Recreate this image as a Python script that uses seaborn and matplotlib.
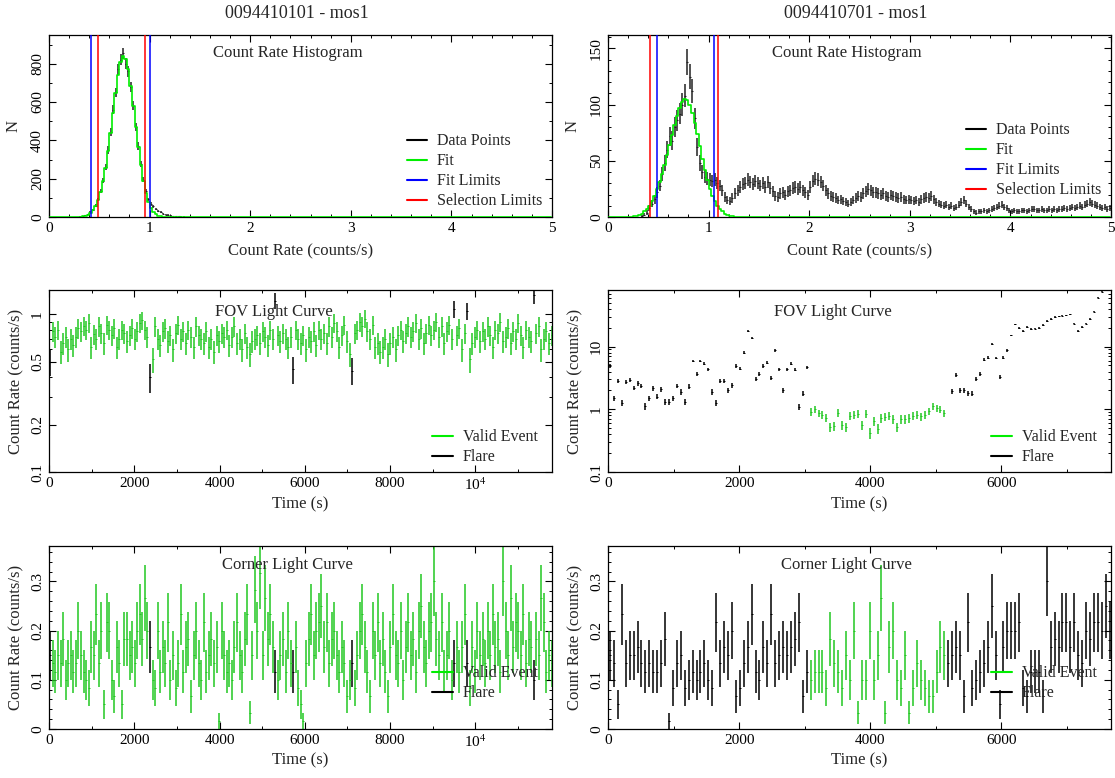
import numpy as np
import matplotlib
matplotlib.use("Agg")
import matplotlib.pyplot as plt
import seaborn as sns
from matplotlib.lines import Line2D
from matplotlib.ticker import MultipleLocator, FixedLocator, NullFormatter

# ---------------- data ----------------
obs_titles = ["0094410101 - mos1", "0094410701 - mos1"]

hist_bin = 0.025  # counts/s per histogram bin
# left observation: histogram counts (bins from 0)
hist_l_data = [0, 0, 0, 0, 0, 0, 0, 0, 0, 0,
               1, 1, 2, 4, 8, 14,
               24, 38, 60, 92, 135, 190,
               262, 350, 445, 560, 650, 770,
               820, 855, 800, 760, 680, 580,
               470, 370, 275, 195, 135, 92,
               68, 55, 42, 32, 24, 18,
               13, 10, 7, 5, 4, 3,
               2, 2, 1, 1]
hist_l_fit = [0, 0, 0, 0, 0, 0, 0, 0, 0, 0,
              1, 1, 2, 4, 7, 13,
              22, 36, 57, 88, 130, 186,
              256, 342, 440, 545, 648, 740,
              810, 840, 825, 770, 685, 580,
              470, 365, 270, 190, 125, 78,
              46, 26, 14, 7, 3, 2,
              1, 0] + [0] * 152
# right observation
hist_r_data = [0, 0, 0, 0, 0, 0, 0, 0, 0, 0, 0, 0,
               0, 1, 2, 4, 8, 12,
               16, 22, 28, 38, 48, 60,
               72, 68, 80, 86, 92, 100,
               108, 138, 125, 112, 88, 62,
               48, 40, 36, 34, 33, 32,
               33, 30, 28, 24, 18, 15,
               14, 17, 21, 24, 27, 29,
               30, 33, 31, 29, 32, 30,
               28, 30, 27, 31, 26, 23,
               19, 18, 21, 22, 20, 23,
               24, 26, 27, 25, 27, 24,
               22, 20, 27, 32, 34, 33,
               31, 28, 24, 21, 19, 18,
               17, 15, 16, 14, 13, 12,
               13, 15, 17, 19, 18, 21,
               23, 25, 24, 22, 22, 21,
               20, 21, 19, 18, 20, 19,
               18, 17, 18, 16, 15, 16,
               15, 14, 15, 13, 16, 17,
               18, 17, 19, 16, 13, 12,
               11, 10, 11, 9, 10, 8,
               9, 11, 13, 15, 12, 9,
               7, 5, 4, 5, 5, 6,
               5, 6, 7, 8, 9, 10,
               11, 9, 8, 6, 5, 6,
               5, 5, 6, 6, 5, 6,
               7, 7, 6, 6, 7, 6,
               6, 7, 6, 7, 6, 7,
               7, 8, 7, 8, 9, 8,
               9, 10, 9, 11, 12, 13,
               12, 11, 10, 9, 8, 9,
               7, 8]
hist_r_fit = [0, 0, 0, 0, 0, 0, 0, 0, 0, 0, 1, 1,
              2, 3, 5, 7, 10, 14,
              19, 25, 31, 38, 46, 55,
              64, 73, 82, 90, 97, 102,
              105, 104, 100, 93, 84, 74,
              63, 52, 42, 33, 25, 19,
              14, 10, 7, 5, 3, 2,
              1, 1] + [0] * 150

fit_limits = [[0.417, 1.003], [0.486, 1.053]]
sel_limits = [[0.488, 0.954], [0.418, 1.089]]

lc_bin = 60.0  # s
time_max = [11800, 7670]

# left observation light curves (count rate per 60 s bin)
fov_l = [0.50, 0.78, 0.72, 0.80, 0.58, 0.66, 0.72, 0.60, 0.70, 0.64,
         0.72, 0.82, 0.78, 0.85, 0.80, 0.88, 0.62, 0.75, 0.70, 0.84,
         0.76, 0.66, 0.86, 0.80, 0.74, 0.82, 0.62, 0.70, 0.80, 0.76,
         0.68, 0.74, 0.82, 0.70, 0.78, 0.88, 0.92, 0.80, 0.72, 0.40,
         0.52, 0.84, 0.70, 0.64, 0.78, 0.82, 0.68, 0.74, 0.60, 0.76,
         0.86, 0.70, 0.78, 0.66, 0.80, 0.72, 0.62, 0.84, 0.74, 0.70,
         0.66, 0.78, 0.62, 0.70, 0.58, 0.74, 0.68, 0.76, 0.72, 0.80,
         0.64, 0.72, 0.84, 0.66, 0.70, 0.60, 0.76, 0.62, 0.56, 0.68,
         0.70, 0.74, 0.66, 0.78, 0.72, 0.64, 0.80, 0.70, 1.22, 0.74,
         0.68, 0.76, 0.70, 0.62, 0.72, 0.45, 0.80, 0.70, 0.66, 0.74,
         0.60, 0.72, 0.68, 0.78, 0.64, 0.80, 0.70, 0.76, 0.66, 0.84,
         0.72, 0.88, 0.78, 0.62, 0.74, 0.86, 0.68, 0.56, 0.44, 0.76,
         0.80, 0.90, 0.84, 0.94, 0.78, 0.70, 0.86, 0.62, 0.66, 0.58,
         0.62, 0.70, 0.56, 0.66, 0.72, 0.60, 0.74, 0.80, 0.68, 0.76,
         0.84, 0.72, 0.78, 0.88, 0.70, 0.82, 0.66, 0.76, 0.86, 0.74,
         0.80, 0.90, 0.72, 0.84, 0.66, 0.78, 0.86, 0.70, 1.08, 0.74,
         0.82, 0.60, 0.76, 1.05, 0.52, 0.66, 0.72, 0.80, 0.68, 0.78,
         0.70, 0.84, 0.74, 0.62, 0.80, 0.76, 0.90, 0.68, 0.72, 0.82,
         0.66, 0.78, 0.70, 0.88, 0.74, 0.62, 0.80, 0.72, 0.68, 1.32,
         0.76, 0.84, 0.60, 0.70, 0.78, 0.66, 0.74]
corner_l_counts = [9, 8, 7, 9, 8, 11, 6, 8, 9, 7,
                   8, 12, 9, 7, 6, 5, 10, 9, 14, 8,
                   12, 3, 13, 12, 6, 4, 10, 8, 3, 11,
                   11, 9, 10, 8, 12, 14, 11, 16, 12, 10,
                   6, 5, 12, 7, 10, 8, 13, 6, 9, 5,
                   8, 14, 7, 10, 11, 4, 9, 12, 8, 6,
                   13, 7, 9, 11, 8, 10, 1, 12, 9, 7,
                   8, 6, 10, 13, 9, 7, 11, 14, 2, 9,
                   17, 12, 19, 9, 16, 11, 14, 10, 7, 6,
                   9, 11, 7, 12, 8, 7, 10, 5, 3, 1,
                   8, 11, 14, 9, 12, 13, 15, 10, 13, 8,
                   11, 12, 9, 7, 10, 8, 4, 6, 8, 5,
                   9, 12, 14, 10, 7, 4, 12, 9, 13, 8,
                   11, 7, 4, 10, 14, 9, 8, 12, 6, 10,
                   13, 9, 11, 7, 12, 15, 10, 8, 12, 13,
                   18, 11, 9, 13, 7, 9, 12, 6, 8, 10,
                   7, 10, 14, 8, 5, 10, 7, 12, 9, 11,
                   8, 12, 9, 14, 10, 11, 7, 18, 12, 9,
                   16, 10, 13, 12, 9, 14, 8, 11, 10, 6,
                   11, 9, 16, 13, 7, 9, 8]
flare_l_idx = [0, 39, 88, 95, 118, 158, 163, 189]

# right observation light curves
fov_r = [4.9, 1.5, 2.8, 1.28, 2.7, 2.9, 2.2, 2.6, 2.35, 1.13,
         1.5, 2.15, 1.6, 2.1, 1.33, 1.33, 1.5, 2.35, 1.9, 1.33,
         2.3, 5.9, 3.7, 5.9, 5.35, 4.35, 1.9, 1.28, 2.8, 2.8,
         2.0, 2.4, 4.9, 4.45, 8.0, 17.7, 13.9, 3.1, 3.7, 4.9,
         5.5, 3.2, 8.7, 4.35, 2.0, 4.35, 5.35, 4.3, 1.1, 1.78,
         4.7,
         0.92, 1.0, 0.87, 0.81, 0.74, 0.52, 0.54, 0.88, 0.56, 0.52,
         0.78, 0.81, 0.85, 0.56, 0.85, 0.42, 0.65, 0.49, 0.72, 0.76,
         0.78, 0.69, 0.52, 0.69, 0.69, 0.72, 0.78, 0.81, 0.77, 0.81,
         0.94, 1.13, 1.04, 0.99, 0.87,
         np.nan,
         1.96, 3.5, 2.0, 2.0, 1.8, 1.78, 3.1, 3.7, 6.2, 6.7,
         11.2, 6.6, 3.3, 6.7, 8.7, 15.1, 22.6, 20.0, 17.8, 20.5,
         19.2, 19.4, 20.0, 22.0, 25.6, 27.6, 29.7, 30.5, 31.0, 31.6,
         33.0, 23.3, 17.8, 20.5, 23.3, 27.6, 36.0, 60.0, 75.0]
corner_r_counts = [9, 8, 3, 14, 8, 9, 9, 10, 8, 7,
                   8, 7, 7, 8, 11, 1, 5, 8, 9, 5,
                   6, 7, 6, 7, 8, 6, 5, 13, 8, 10,
                   9, 12, 4, 5, 8, 10, 14, 7, 6, 10,
                   8, 14, 8, 9, 10, 9, 10, 11, 13, 4,
                   7, 6, 7, 7, 7, 5, 11, 8, 7, 5,
                   9, 6, 12, 2, 6, 6, 12, 6, 9, 16,
                   2, 10, 12, 6, 5, 9, 2, 5, 8, 6,
                   5, 4, 4, 7, 10, 9, 8, 9, 10, 9,
                   4, 13, 5, 6, 7, 8, 10, 15, 9, 3,
                   10, 12, 12, 12, 13, 5, 4, 7, 7, 7,
                   4, 18, 10, 11, 10, 13, 13, 10, 13, 9,
                   8, 12, 11, 13, 13, 12, 15, 12]
valid_r_first, valid_r_last = 51, 85

# ---------------- style ----------------
sns.set_style("ticks")
plt.rcParams["font.family"] = ["Liberation Serif", "DejaVu Serif"]
plt.rcParams["mathtext.fontset"] = "stix"
plt.rcParams["axes.linewidth"] = 0.9

W, H = 1115, 778
fig = plt.figure(figsize=(W / 100, H / 100), dpi=100)
fig.patch.set_facecolor("white")

LIME = "#00ee00"
BAR_GREEN = "#22c822"


def ax_at(x0, x1, ytop, ybot):
    return fig.add_axes([x0 / W, 1 - ybot / H, (x1 - x0) / W, (ybot - ytop) / H])


def style_axis(ax, xlab, ylab, xlab_y, ylab_x):
    ax.tick_params(which="both", direction="in", top=True, right=True,
                   labelsize=11, colors="black")
    ax.tick_params(which="major", length=5, width=0.8)
    ax.tick_params(which="minor", length=2.5, width=0.7)
    ax.tick_params(axis="y", labelrotation=90)
    for lab in ax.get_yticklabels():
        lab.set_va("center")
    for s in ax.spines.values():
        s.set_visible(True)
        s.set_color("black")
    ax.set_xlabel(xlab, fontsize=12, va="center")
    ax.set_ylabel(ylab, fontsize=12, va="center")
    ax.xaxis.set_label_coords(0.5, xlab_y)
    ax.yaxis.set_label_coords(ylab_x, 0.5)


cols = [(49, 552), (608, 1111)]
rows = [(35, 217), (290, 472), (546, 729)]

hist_data = [hist_l_data, hist_r_data]
hist_fit = [hist_l_fit, hist_r_fit]
hist_ymax = [950, 162]
hist_major = [200, 50]
hist_minor = [100, 10]
hist_leg_y = [-0.01, 0.05]

for k in range(2):
    x0, x1 = cols[k]
    fig.text(((x0 + x1) / 2 - 4) / W, 1 - 13 / H, obs_titles[k],
             ha="center", va="center", fontsize=13)

    # ---- histogram ----
    ax = ax_at(x0, x1, *rows[0])
    d = np.array(hist_data[k], dtype=float)
    f = np.array(hist_fit[k], dtype=float)
    xd = (np.arange(len(d)) + 0.5) * hist_bin
    xf = (np.arange(len(f)) + 0.5) * hist_bin
    sns.lineplot(x=xf, y=f, drawstyle="steps-mid", color=LIME, lw=1.2,
                 ax=ax, legend=False, zorder=3)
    m = d > 0
    ax.errorbar(xd[m], d[m], yerr=np.sqrt(d[m]), fmt="_", ms=1.5, mew=0.8,
                color="#222222", elinewidth=1.1, capsize=0, zorder=2)
    for v in fit_limits[k]:
        ax.axvline(v, color="#0000ff", lw=1.1, zorder=4)
    for v in sel_limits[k]:
        ax.axvline(v, color="#ff0000", lw=1.1, zorder=4)
    ax.set_xlim(0, 5)
    ax.set_ylim(0, hist_ymax[k])
    ax.xaxis.set_major_locator(MultipleLocator(1))
    ax.xaxis.set_minor_locator(MultipleLocator(0.2))
    ax.yaxis.set_major_locator(MultipleLocator(hist_major[k]))
    ax.yaxis.set_minor_locator(MultipleLocator(hist_minor[k]))
    style_axis(ax, "Count Rate (counts/s)", "N", -0.19, -0.07)
    ax.text(0.474, 0.90, "Count Rate Histogram", transform=ax.transAxes,
            ha="center", va="center", fontsize=12)
    handles = [Line2D([], [], color="black", lw=1.5),
               Line2D([], [], color=LIME, lw=1.5),
               Line2D([], [], color="#0000ff", lw=1.5),
               Line2D([], [], color="#ff0000", lw=1.5)]
    ax.legend(handles, ["Data Points", "Fit", "Fit Limits", "Selection Limits"],
              loc="lower right", bbox_to_anchor=(1.0, hist_leg_y[k]),
              frameon=False, fontsize=11.5, handlelength=1.3,
              handletextpad=0.6, labelspacing=0.25, borderaxespad=0.2)

# ---- light curves ----
fov_data = [np.array(fov_l, dtype=float), np.array(fov_r, dtype=float)]
corner_data = [np.array(corner_l_counts, dtype=float) / lc_bin,
               np.array(corner_r_counts, dtype=float) / lc_bin]
corner_err = [np.sqrt(np.array(corner_l_counts, dtype=float)) / lc_bin,
              np.sqrt(np.array(corner_r_counts, dtype=float)) / lc_bin]


def valid_mask(k, n):
    idx = np.arange(n)
    if k == 0:
        return ~np.isin(idx, flare_l_idx)
    return (idx >= valid_r_first) & (idx <= valid_r_last)


for k in range(2):
    x0, x1 = cols[k]
    for row, kind in ((1, "fov"), (2, "corner")):
        ax = ax_at(x0, x1, *rows[row])
        if kind == "fov":
            r = fov_data[k]
            e = np.sqrt(r * lc_bin) / lc_bin
        else:
            r = corner_data[k]
            e = corner_err[k]
        t = (np.arange(len(r)) + 0.5) * lc_bin
        vm = valid_mask(k, len(r))
        ok = ~np.isnan(r)
        for mask, col in ((vm & ok, BAR_GREEN), (~vm & ok, "black")):
            ax.errorbar(t[mask], r[mask], yerr=e[mask], fmt="_", ms=1.2,
                        mew=0.7, color=col, elinewidth=1.1, capsize=0)
        ax.set_xlim(0, time_max[k])
        ax.xaxis.set_major_locator(MultipleLocator(2000))
        ax.xaxis.set_minor_locator(MultipleLocator(1000))
        ax.xaxis.set_major_formatter(
            plt.FuncFormatter(lambda v, p: r"10$^4$" if abs(v - 10000) < 1 else f"{v:.0f}"))
        if kind == "fov":
            ax.set_yscale("log")
            if k == 0:
                ax.set_ylim(0.1, 1.43)
                ax.yaxis.set_major_locator(FixedLocator([0.1, 0.2, 0.5, 1.0]))
                ax.yaxis.set_minor_locator(FixedLocator([0.3, 0.4, 0.6, 0.7, 0.8, 0.9]))
                ax.set_yticklabels(["0.1", "0.2", "0.5", "1"])
            else:
                ax.set_ylim(0.1, 80)
                ax.yaxis.set_major_locator(FixedLocator([0.1, 1.0, 10.0]))
                ax.yaxis.set_minor_locator(FixedLocator(
                    [m * d for d in (0.1, 1.0, 10.0) for m in range(2, 10)]))
                ax.set_yticklabels(["0.1", "1", "10"])
            ax.yaxis.set_minor_formatter(NullFormatter())
            title = "FOV Light Curve"
            tx, ty = 0.447, 0.88
            leg_y = -0.015
            xl_y = -0.18
        else:
            ax.set_ylim(0, 0.372)
            ax.yaxis.set_major_locator(MultipleLocator(0.1))
            ax.yaxis.set_minor_locator(MultipleLocator(0.02))
            ax.yaxis.set_major_formatter(plt.FuncFormatter(
                lambda v, p: "0" if abs(v) < 1e-9 else f"{v:.1f}"))
            title = "Corner Light Curve"
            tx, ty = 0.474, 0.895
            leg_y = 0.10
            xl_y = -0.17
        style_axis(ax, "Time (s)", "Count Rate (counts/s)", xl_y, -0.064)
        ax.text(tx, ty, title, transform=ax.transAxes, ha="center",
                va="center", fontsize=12)
        handles = [Line2D([], [], color=LIME, lw=1.5),
                   Line2D([], [], color="black", lw=1.5)]
        ax.legend(handles, ["Valid Event", "Flare"], loc="lower right",
                  bbox_to_anchor=(0.99, leg_y), frameon=False, fontsize=11.5,
                  handlelength=1.3, handletextpad=0.6, labelspacing=0.25,
                  borderaxespad=0.2)

fig.savefig("out.png", dpi=100, facecolor="white")
